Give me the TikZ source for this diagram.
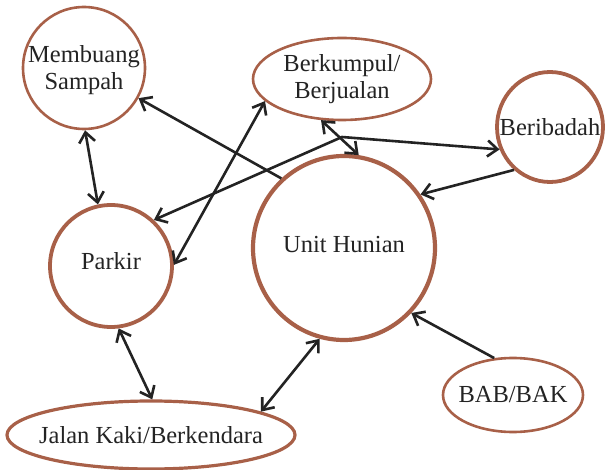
\documentclass[tikz,border=0pt]{standalone}
\usepackage{fontspec}
\setmainfont{Liberation Serif}
\usetikzlibrary{arrows.meta,shapes,positioning}
\definecolor{bata}{RGB}{168,96,72}
\definecolor{tinta}{RGB}{35,35,35}

\begin{document}
\begin{tikzpicture}[x=1pt,y=-1pt,
  >={Straight Barb[length=10pt,width=16pt]},
  ruang/.style={ellipse,draw=bata,line width=2.6pt,inner sep=0pt},
  tebal/.style={line width=3.8pt},
  panah/.style={line width=2.6pt,draw=tinta}]
\tikzstyle{every node}=[font=\fontsize{24.5}{27}\selectfont,text=tinta]
\tikzstyle{every label}=[align=center,font=\fontsize{24.5}{27}\selectfont,text=tinta]
\useasboundingbox (0,0) rectangle (605,470);

\node[ruang,minimum width=122pt,minimum height=122pt,label={[yshift=-2pt]center:{Membuang\\Sampah}}] (sampah) at (84,68) {};
\node[ruang,minimum width=178pt,minimum height=82pt,label=center:{Berkumpul/\\Berjualan}] (kumpul) at (342,79) {};
\node[ruang,tebal,minimum width=106pt,minimum height=110pt,label=center:{Beribadah}] (ibadah) at (550,127) {};
\node[ruang,tebal,minimum width=122pt,minimum height=122pt,label={[yshift=5pt]center:Parkir}] (parkir) at (111,266) {};
\node[ruang,line width=4.2pt,minimum width=182pt,minimum height=184pt,label={[yshift=3pt]center:Unit Hunian}] (hunian) at (344,248) {};
\node[ruang,minimum width=140pt,minimum height=74pt,label=center:{BAB/BAK}] (bab) at (513,395) {};
\node[ruang,line width=3.2pt,minimum width=288pt,minimum height=68pt,label=center:{Jalan Kaki/Berkendara}] (jalan) at (151,435) {};
\coordinate (tekuk) at (342,137);

\draw[panah,<->] (sampah.271) -- (parkir.102);
\draw[panah,->] (hunian.132) -- (sampah.-29);
\draw[panah,<->] (parkir.1) -- (kumpul.196);
\draw[panah,<->] (kumpul.243) -- (hunian.81);
\draw[panah,<->] (parkir.47) -- (tekuk) -- (ibadah.204);
\draw[panah,->] (ibadah.230) -- (hunian.35);
\draw[panah,<->] (parkir.-83) -- (jalan.88);
\draw[panah,<->] (hunian.255) -- (jalan.12);
\draw[panah,->] (bab.117) -- (hunian.-44);

\end{tikzpicture}
\end{document}
